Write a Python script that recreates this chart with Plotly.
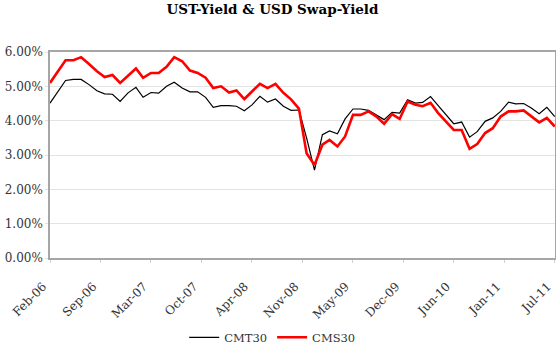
import pandas as pd
import plotly.graph_objects as go

# Monthly observations, Feb-2006 .. Jul-2011 (month-end)
dates = pd.date_range("2006-02-28", periods=66, freq="ME")

cmt30 = [4.51, 4.84, 5.17, 5.20, 5.20, 5.05, 4.87, 4.78, 4.77, 4.56,
         4.81, 4.97, 4.68, 4.82, 4.80, 5.00, 5.12, 4.95, 4.84, 4.84,
         4.68, 4.39, 4.44, 4.44, 4.42, 4.29, 4.46, 4.71, 4.54, 4.63,
         4.42, 4.30, 4.31, 3.50, 2.56, 3.59, 3.70, 3.62, 4.05, 4.34,
         4.34, 4.30, 4.17, 4.03, 4.24, 4.22, 4.61, 4.51, 4.53, 4.70,
         4.44, 4.17, 3.91, 3.96, 3.52, 3.68, 3.98, 4.08, 4.27, 4.54,
         4.49, 4.50, 4.37, 4.20, 4.39, 4.12]

cms30 = [5.10, 5.44, 5.76, 5.76, 5.85, 5.65, 5.44, 5.27, 5.33, 5.10,
         5.31, 5.52, 5.25, 5.39, 5.39, 5.57, 5.85, 5.73, 5.46, 5.39,
         5.25, 4.95, 5.00, 4.82, 4.88, 4.63, 4.85, 5.07, 4.95, 5.07,
         4.81, 4.62, 4.35, 3.05, 2.71, 3.30, 3.44, 3.25, 3.54, 4.17,
         4.17, 4.27, 4.12, 3.91, 4.19, 4.05, 4.56, 4.46, 4.42, 4.52,
         4.22, 3.98, 3.73, 3.73, 3.18, 3.32, 3.64, 3.78, 4.12, 4.27,
         4.27, 4.30, 4.12, 3.95, 4.08, 3.83]

# Excel-style date axis: 10 equal major intervals across the data span
tick_dates = pd.date_range(dates[0], dates[-1], periods=11).floor("D")
tick_labels = [d.strftime("%b-%y") for d in tick_dates]

FONT = "DejaVu Serif"

fig = go.Figure()
fig.add_trace(go.Scatter(x=dates, y=cmt30, mode="lines", name="CMT30",
                         line=dict(color="#000000", width=1.2)))
fig.add_trace(go.Scatter(x=dates, y=cms30, mode="lines", name="CMS30",
                         line=dict(color="#ff0000", width=2.6)))

fig.update_layout(
    width=556, height=345,
    margin=dict(l=50, r=1, t=52, b=87, autoexpand=False),
    paper_bgcolor="white", plot_bgcolor="white",
    title=dict(text="<b>UST-Yield &amp; USD Swap-Yield</b>",
               font=dict(family=FONT, size=13.5, color="#000000"),
               x=0.49, xanchor="center", xref="container",
               y=1 - 9 / 345, yanchor="middle", yref="container"),
    font=dict(family=FONT, size=11, color="#333333"),
    showlegend=True,
    legend=dict(orientation="h", x=0.44, xanchor="center",
                y=-0.385, yanchor="middle",
                font=dict(family=FONT, size=11.5, color="#333333"),
                itemwidth=30, tracegroupgap=0),
)

fig.update_xaxes(
    type="date",
    range=[dates[0], dates[-1] + pd.Timedelta(days=1)],
    tickvals=tick_dates, ticktext=tick_labels,
    tickangle=-45,
    tickfont=dict(family=FONT, size=12, color="#333333"),
    ticklabelstandoff=12,
    ticklabelshift=-7,
    ticklabeloverflow="allow",
    automargin=False,
    showgrid=False,
    showline=True, linecolor="#a6a6a6", linewidth=1.5, mirror=True,
    ticks="outside", ticklen=3, tickcolor="#d0d0d0",
    zeroline=False,
)
fig.update_yaxes(
    range=[0, 6], dtick=1, tickformat=".2f", ticksuffix="%",
    tickfont=dict(family=FONT, size=12, color="#333333"),
    automargin=False,
    showgrid=True, gridcolor="#e3e3e3", gridwidth=1,
    showline=True, linecolor="#a6a6a6", linewidth=1.5, mirror=True,
    ticks="outside", ticklen=3, tickcolor="#e3e3e3",
    zeroline=False,
)

fig.write_html("out.html")
